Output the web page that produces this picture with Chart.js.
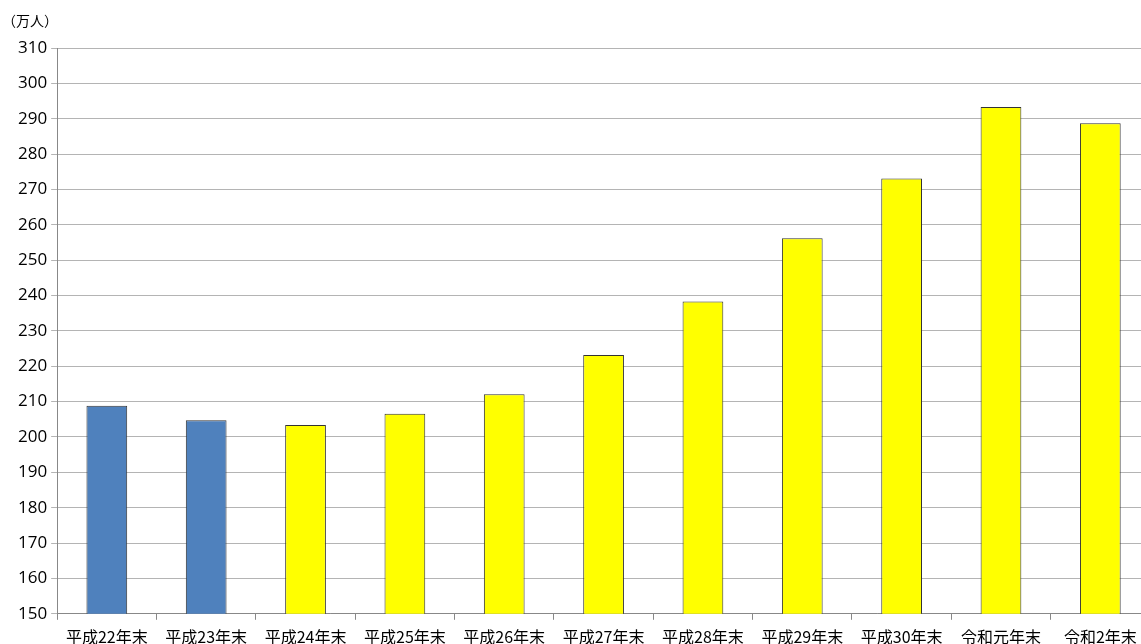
<!DOCTYPE html>
<html>
<head>
<meta charset="utf-8">
<script src="https://cdn.jsdelivr.net/npm/chart.js@4"></script>
<style>
  html, body { margin: 0; padding: 0; background: #fff; overflow: hidden; }
  #wrap { width: 1150px; height: 655px; position: relative; }
</style>
</head>
<body>
<div id="wrap"><canvas id="chart"></canvas></div>
<script>
// 在留外国人数（万人）
const categories = ['平成22年末', '平成23年末', '平成24年末', '平成25年末', '平成26年末', '平成27年末',
  '平成28年末', '平成29年末', '平成30年末', '令和元年末', '令和2年末'];
const values = [208.8, 204.7, 203.4, 206.6, 212.1, 223.2, 238.3, 256.2, 273.1, 293.3, 288.7];
const barColors = ['#4F81BD', '#4F81BD', '#FFFF00', '#FFFF00', '#FFFF00', '#FFFF00',
  '#FFFF00', '#FFFF00', '#FFFF00', '#FFFF00', '#FFFF00'];
const yMin = 150;
const yMax = 310;
const yStep = 10;
const unitLabel = '（万人）';

const fontFamily = '"Noto Sans CJK JP", "Noto Sans", sans-serif';

const unitPlugin = {
  id: 'unitLabel',
  afterDraw(chart) {
    const ctx = chart.ctx;
    ctx.save();
    ctx.font = '14px ' + fontFamily;
    ctx.fillStyle = '#000';
    ctx.textBaseline = 'middle';
    ctx.fillText(unitLabel, 2, 21);
    ctx.restore();
  }
};

new Chart(document.getElementById('chart'), {
  type: 'bar',
  data: {
    labels: categories,
    datasets: [{
      data: values,
      backgroundColor: barColors,
      borderColor: '#333333',
      borderWidth: 1,
      barPercentage: 0.41,
      categoryPercentage: 1.0
    }]
  },
  options: {
    responsive: true,
    maintainAspectRatio: false,
    animation: false,
    layout: { padding: { top: 48, right: 0, left: 14, bottom: 0 } },
    plugins: {
      legend: { display: false },
      tooltip: { enabled: false }
    },
    scales: {
      x: {
        offset: true,
        grid: {
          offset: true,
          drawOnChartArea: false,
          drawTicks: true,
          tickLength: 6,
          color: '#888888'
        },
        border: { color: '#888888' },
        ticks: {
          color: '#000',
          font: { family: fontFamily, size: 16 },
          maxRotation: 0,
          autoSkip: false,
          padding: 8
        }
      },
      y: {
        min: yMin,
        max: yMax,
        grid: {
          color: '#b4b4b4',
          tickLength: 6,
          lineWidth: 1
        },
        border: { color: '#888888' },
        ticks: {
          stepSize: yStep,
          color: '#000',
          font: { family: '"Open Sans", "Noto Sans", sans-serif', size: 17 },
          padding: 4
        }
      }
    }
  },
  plugins: [unitPlugin]
});
</script>
</body>
</html>
